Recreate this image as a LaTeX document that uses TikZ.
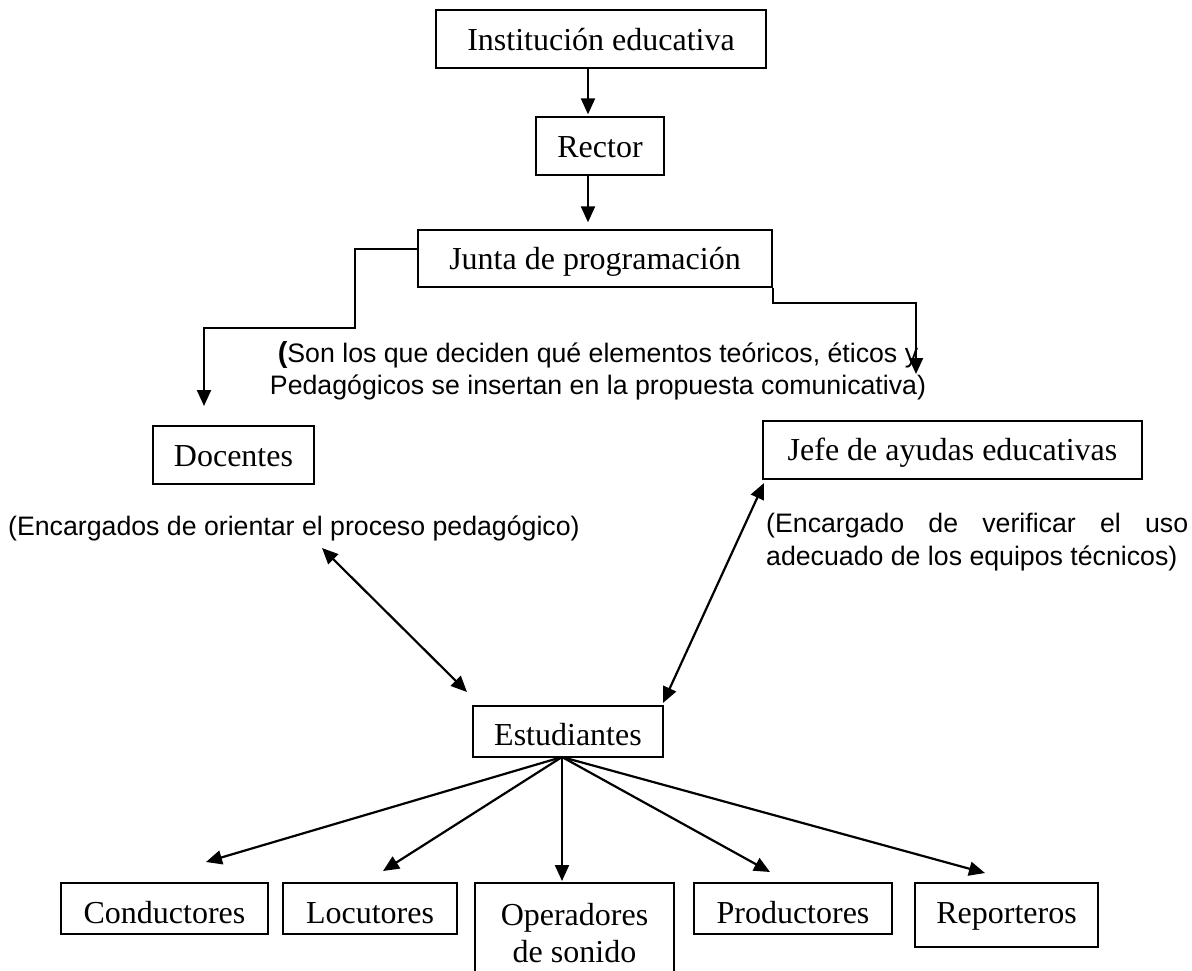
\documentclass[tikz,border=0pt]{standalone}
\usepackage{fontspec}
\setmainfont{Liberation Serif}
\newfontfamily\arialf{Liberation Sans}
\usetikzlibrary{arrows.meta}
\begin{document}
\begin{tikzpicture}[x=1pt,y=-1pt,
  box/.style={draw, line width=1.3pt, inner sep=0pt, align=center, font=\fontsize{32}{37}\selectfont},
  onel/.style={box, text height=28, text depth=6},
  arr/.style={line width=2.2pt, -{Triangle[length=16pt,width=14pt]}},
  darr/.style={line width=2.2pt, {Triangle[length=16pt,width=14pt]}-{Triangle[length=16pt,width=14pt]}},
  note/.style={inner sep=0pt, font=\arialf\fontsize{26.7}{32}\selectfont}]
\useasboundingbox (0,0) rectangle (1192,970);
\clip (0,0) rectangle (1192,970);
\fill[white] (0,0) rectangle (1192,970);
% boxes
\node[onel, minimum width=330, minimum height=58] (inst) at (601,39) {Institución educativa};
\node[onel, minimum width=128, minimum height=58] (rector) at (600,146) {Rector};
\node[onel, minimum width=354, minimum height=57] (junta) at (595,258.5) {Junta de programación};
\node[onel, minimum width=161, minimum height=58] (doc) at (233.5,455) {Docentes};
\node[onel, text height=26, minimum width=379, minimum height=58] (jefe) at (952.5,450) {Jefe de ayudas educativas};
\node[onel, text height=33, minimum width=190, minimum height=51] (est) at (568,731.5) {Estudiantes};
\node[onel, text height=35, minimum width=207, minimum height=51] (cond) at (164.5,908.5) {Conductores};
\node[onel, text height=35, minimum width=174, minimum height=51] (loc) at (370,908.5) {Locutores};
\node[box, minimum width=199, minimum height=100] (oper) at (574.5,933) {Operadores\\de sonido};
\node[onel, text height=35, minimum width=198, minimum height=51] (prod) at (793,908.5) {Productores};
\node[onel, text height=22, minimum width=183, minimum height=64] (rep) at (1006.5,915) {Reporteros};
% notes
\node[note, align=center, anchor=north] (n1) at (598,341) {{\bfseries\fontsize{29}{32}\selectfont(}Son los que deciden qué elementos teóricos, éticos y\\Pedagógicos se insertan en la propuesta comunicativa)};
\node[note, anchor=west] (n2) at (8,528) {(Encargados de orientar el proceso pedagógico)};
\node[note, align=left, anchor=north west, font=\arialf\fontsize{26.7}{33}\selectfont] (n3) at (766,513) {\makebox[422pt][s]{(Encargado de verificar el uso}\\adecuado de los equipos técnicos)};
% free ends
\coordinate (lt) at (204,406);
\coordinate (rt) at (916,374);
\coordinate (dd1) at (322,548);
\coordinate (dd2) at (467,692);
\coordinate (jd1) at (764,483);
\coordinate (jd2) at (663,703);
\coordinate (eo) at (562,757);
\coordinate (tcond) at (206,862);
\coordinate (tloc) at (383,871);
\coordinate (toper) at (562,881);
\coordinate (tprod) at (770,872);
\coordinate (trep) at (985,873);
% connectors
\draw[arr] ([xshift=-13pt]inst.south) -- ([xshift=-12pt,yshift=2pt]rector.north);
\draw[arr] ([xshift=-12pt]rector.south) -- ([xshift=-7pt,yshift=7pt]junta.north);
\draw[arr] ([yshift=9.5pt]junta.west) -| (355,328) -| (lt);
\draw[arr] (junta.south east) -- ++(0,15) -| (rt);
\draw[darr] (dd1) -- (dd2);
\draw[darr] (jd1) -- (jd2);
\draw[arr] (eo) -- (tcond);
\draw[arr] (eo) -- (tloc);
\draw[arr] (eo) -- (toper);
\draw[arr] (eo) -- (tprod);
\draw[arr] (eo) -- (trep);
\end{tikzpicture}
\end{document}
